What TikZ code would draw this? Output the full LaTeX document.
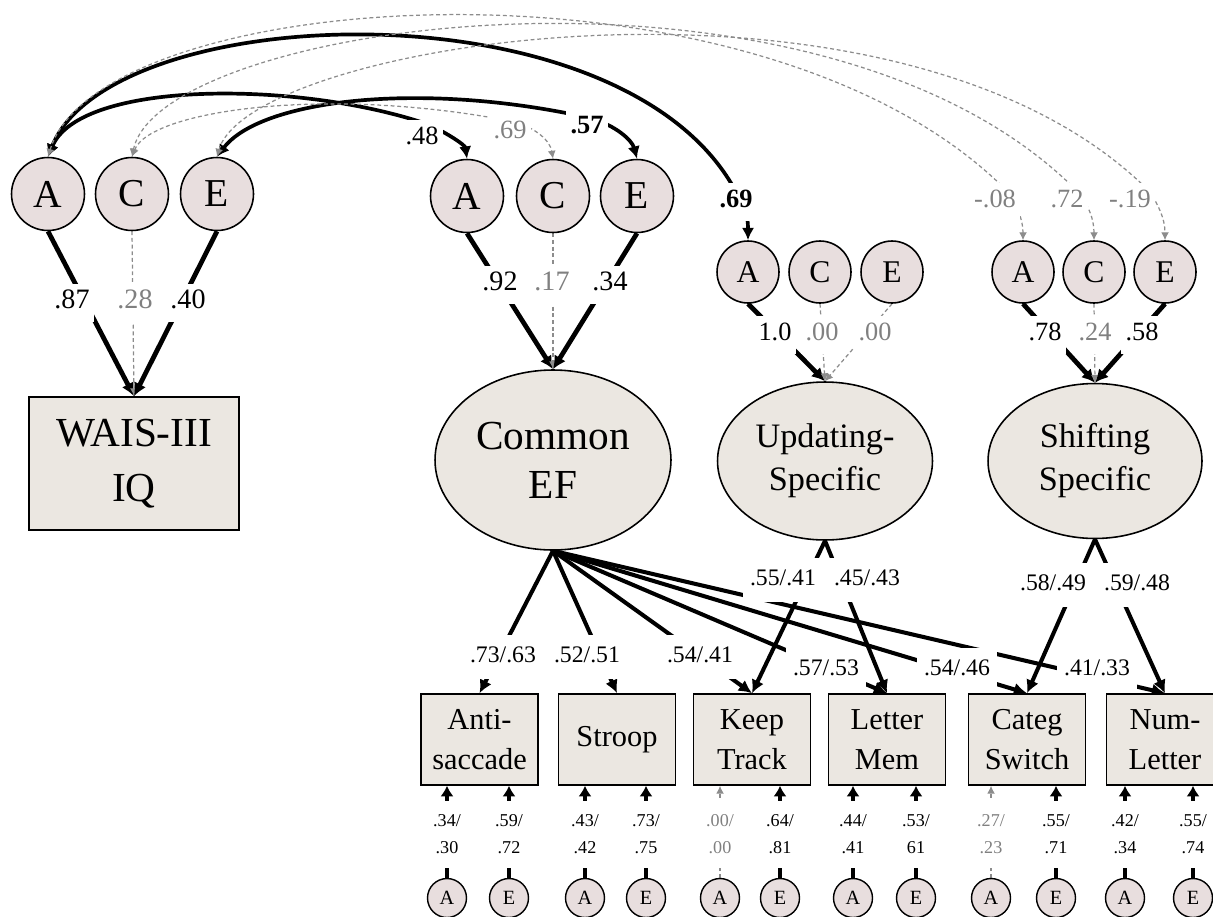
\documentclass[tikz,border=0pt]{standalone}
\usepackage{fontspec}
\setmainfont{Liberation Serif}
\usetikzlibrary{arrows.meta,shapes.geometric}
\definecolor{circfill}{RGB}{232,222,222}
\definecolor{boxfill}{RGB}{235,231,225}
\definecolor{gtext}{RGB}{128,128,128}
\definecolor{gline}{RGB}{140,140,140}
\pgfdeclarelayer{bg}
\pgfsetlayers{bg,main}
\tikzset{
  nd/.style={draw, line width=0.9pt, inner sep=0pt},
  bigc/.style={nd, circle, fill=circfill, minimum size=1.46cm, font=\fontsize{22.5}{26}\selectfont},
  smc/.style={nd, circle, fill=circfill, minimum size=1.24cm, font=\fontsize{18}{21}\selectfont},
  tinyc/.style={nd, circle, line width=0.8pt, fill=circfill, minimum size=0.78cm, font=\fontsize{11.5}{13}\selectfont},
  latent/.style={nd, ellipse, fill=boxfill, align=center},
  obs/.style={nd, rectangle, fill=boxfill, align=center},
  tbox/.style={obs, minimum width=2.34cm, minimum height=1.82cm, font=\fontsize{17.3}{23}\selectfont},
  thk/.style={line width=2.7pt, -{Latex[length=7.5pt,width=7.5pt]}},
  ldg/.style={line width=2.3pt, -{Latex[length=7.5pt,width=7.5pt]}},
  dsh/.style={gline, line width=0.7pt, dash pattern=on 2.2pt off 1.6pt, -{Latex[length=4.5pt,width=4.5pt]}},
  cov/.style={line width=2.1pt, {Latex[length=7pt,width=7pt]}-{Latex[length=7pt,width=7pt]}},
  dcov/.style={gline, line width=0.7pt, dash pattern=on 2.2pt off 1.6pt, {Latex[length=4.5pt,width=4.5pt]}-{Latex[length=4.5pt,width=4.5pt]}},
  btm/.style={line width=2.2pt, -{Latex[length=6pt,width=7.5pt]}},
  lab/.style={fill=white, inner xsep=2.5pt, inner ysep=7pt, text height=0.72em, text depth=0.05em},
  labA/.style={lab, font=\fontsize{16}{19}\selectfont},
  labB/.style={lab, font=\fontsize{15}{18}\selectfont},
  labBb/.style={lab, font=\fontsize{15}{18}\selectfont\bfseries},
  ld/.style={fill=white, inner xsep=4pt, inner ysep=8.5pt, text height=0.75em, text depth=0.08em, font=\fontsize{13.5}{16}\selectfont},
  bl/.style={fill=white, inner xsep=1pt, inner ysep=0pt, align=center, minimum height=1.34cm, font=\fontsize{10.3}{15.3}\selectfont},
  gr/.style={text=gtext},
}
\begin{document}
\begin{tikzpicture}[x=0.02cm,y=-0.02cm]
\useasboundingbox (0,0) rectangle (1213,916);
% ACE circles
\node[bigc] (LA) at (48,194) {A};
\node[bigc] (LC) at (132,194) {C};
\node[bigc] (LE) at (217,194) {E};
\node[bigc] (MA) at (467,196) {A};
\node[bigc] (MC) at (553,196) {C};
\node[bigc] (ME) at (637,196) {E};
\node[smc] (UA) at (748,272) {A};
\node[smc] (UC) at (820,272) {C};
\node[smc] (UE) at (892,272) {E};
\node[smc] (SA) at (1023,272) {A};
\node[smc] (SC) at (1094,272) {C};
\node[smc] (SE) at (1165,272) {E};
% latent / observed
\node[obs, minimum width=4.2cm, minimum height=2.66cm, font=\fontsize{23.5}{31}\selectfont] (WAIS) at (134,463.5) {WAIS-III\\IQ};
\node[latent, minimum width=4.72cm, minimum height=3.6cm, font=\fontsize{23.5}{28}\selectfont] (CEF) at (553,460) {Common\\EF};
\node[latent, minimum width=4.3cm, minimum height=3.16cm, font=\fontsize{19.5}{24.4}\selectfont] (UPD) at (825,461) {Updating-\\Specific};
\node[latent, minimum width=4.28cm, minimum height=3.1cm, font=\fontsize{19.5}{24.4}\selectfont] (SHF) at (1095,461) {Shifting\\Specific};
% task boxes
\node[tbox] (B1) at (479.5,739.5) {Anti-\\saccade};
\node[tbox] (B2) at (617,739.5) {Stroop};
\node[tbox] (B3) at (752,739.5) {Keep\\Track};
\node[tbox] (B4) at (887,739.5) {Letter\\Mem};
\node[tbox] (B5) at (1027,739.5) {Categ\\Switch};
\node[tbox] (B6) at (1165,739.5) {Num-\\Letter};
% bottom circles
\node[tinyc] (a1) at (447,898) {A};
\node[tinyc] (e1) at (509,898) {E};
\node[tinyc] (a2) at (585,898) {A};
\node[tinyc] (e2) at (646,898) {E};
\node[tinyc] (a3) at (720,898) {A};
\node[tinyc] (e3) at (780,898) {E};
\node[tinyc] (a4) at (853,898) {A};
\node[tinyc] (e4) at (916,898) {E};
\node[tinyc] (a5) at (991,898) {A};
\node[tinyc] (e5) at (1056,898) {E};
\node[tinyc] (a6) at (1125,898) {A};
\node[tinyc] (e6) at (1193,898) {E};

\begin{pgfonlayer}{bg}
% ACE paths
\draw[thk] (LA.south) -- (WAIS.north);
\draw[dsh] (LC.south) -- (WAIS.north);
\draw[thk] (LE.south) -- (WAIS.north);
\draw[thk] (MA.south) -- (CEF.north);
\draw[dsh] (MC.south) -- (CEF.north);
\draw[thk] (ME.south) -- (CEF.north);
\draw[thk] (UA.south) -- (UPD.north);
\draw[dsh] (UC.south) -- (UPD.north);
\draw[dsh] (UE.south) -- (UPD.north);
\draw[thk] (SA.south) -- (SHF.north);
\draw[dsh] (SC.south) -- (SHF.north);
\draw[thk] (SE.south) -- (SHF.north);
% covariances
\draw[cov] (LA.north) .. controls (110,0) and (620,-20) .. (735,190) .. controls (745,205) and (748,215) .. (UA.north);
\draw[cov] (LA.north) .. controls (80,80) and (300,80) .. (430,125) .. controls (450,135) and (465,145) .. (MA.north);
\draw[cov] (LE.north) .. controls (260,100) and (420,80) .. (590,118) .. controls (615,125) and (632,140) .. (ME.north);
\draw[dcov] (LC.north) .. controls (150,110) and (330,85) .. (515,122) .. controls (535,128) and (550,140) .. (MC.north);
\draw[dcov] (LA.north) .. controls (100,-15) and (760,-60) .. (1008,192) .. controls (1016,205) and (1023,218) .. (SA.north);
\draw[dcov] (LC.north) .. controls (160,20) and (820,-70) .. (1078,192) .. controls (1088,205) and (1094,218) .. (SC.north);
\draw[dcov] (LE.north) .. controls (250,40) and (900,-60) .. (1150,192) .. controls (1158,205) and (1165,218) .. (SE.north);
% loadings
\draw[ldg] (CEF.south) -- (B1.north);
\draw[ldg] (CEF.south) -- (B2.north);
\draw[ldg] (CEF.south) -- (B3.north);
\draw[ldg] (CEF.south) -- (B4.north);
\draw[ldg] (CEF.south) -- (B5.north);
\draw[ldg] (CEF.south) -- (B6.north);
\draw[ldg] (UPD.south) -- (B3.north);
\draw[ldg] (UPD.south) -- (B4.north);
\draw[ldg] (SHF.south) -- (B5.north);
\draw[ldg] (SHF.south) -- (B6.north);
% bottom arrows
\draw[btm] (a1.north) -- (a1.north |- B1.south);
\draw[btm] (e1.north) -- (e1.north |- B1.south);
\draw[btm] (a2.north) -- (a2.north |- B2.south);
\draw[btm] (e2.north) -- (e2.north |- B2.south);
\draw[dsh] (a3.north) -- (a3.north |- B3.south);
\draw[btm] (e3.north) -- (e3.north |- B3.south);
\draw[btm] (a4.north) -- (a4.north |- B4.south);
\draw[btm] (e4.north) -- (e4.north |- B4.south);
\draw[dsh] (a5.north) -- (a5.north |- B5.south);
\draw[btm] (e5.north) -- (e5.north |- B5.south);
\draw[btm] (a6.north) -- (a6.north |- B6.south);
\draw[btm] (e6.north) -- (e6.north |- B6.south);
% labels: ACE paths
\node[labA] (p1) at (72,303) {.87};
\node[labA, gr] (p2) at (135,303) {.28};
\node[labA] (p3) at (188,303) {.40};
\node[labA] (p4) at (500,285) {.92};
\node[labA, gr] (p5) at (552,285) {.17};
\node[labA] (p6) at (610,285) {.34};
\node[labB] (p7) at (775,335) {1.0};
\node[labB, gr] (p8) at (822,335) {.00};
\node[labB, gr] (p9) at (875,335) {.00};
\node[labB] (p10) at (1045,335) {.78};
\node[labB, gr] (p11) at (1095,335) {.24};
\node[labB] (p12) at (1142,335) {.58};
% labels: covariances
\node[labB] (c1) at (422,139) {.48};
\node[labB, gr] (c2) at (510,133) {.69};
\node[labBb] (c3) at (587,128) {.57};
\node[labBb] (c4) at (736,202) {.69};
\node[labB, gr] (c5) at (995,202) {-.08};
\node[labB, gr] (c6) at (1067,202) {.72};
\node[labB, gr] (c7) at (1130,202) {-.19};
% labels: loadings
\node[ld] (m1) at (503,657) {.73/.63};
\node[ld] (m2) at (587,657) {.52/.51};
\node[ld] (m3) at (700,657) {.54/.41};
\node[ld] (m4) at (826,670) {.57/.53};
\node[ld] (m5) at (957,670) {.54/.46};
\node[ld] (m6) at (1097,670) {.41/.33};
\node[ld] (u1) at (783,580) {.55/.41};
\node[ld] (u2) at (867,580) {.45/.43};
\node[ld] (s1) at (1053,585) {.58/.49};
\node[ld] (s2) at (1137,585) {.59/.48};
% labels: bottom
\node[bl] (q1) at (447,834) {.34/\\.30};
\node[bl] (q2) at (509,834) {.59/\\.72};
\node[bl] (q3) at (585,834) {.43/\\.42};
\node[bl] (q4) at (646,834) {.73/\\.75};
\node[bl, gr] (q5) at (720,834) {.00/\\.00};
\node[bl] (q6) at (780,834) {.64/\\.81};
\node[bl] (q7) at (853,834) {.44/\\.41};
\node[bl] (q8) at (916,834) {.53/\\61};
\node[bl, gr] (q9) at (991,834) {.27/\\.23};
\node[bl] (q10) at (1056,834) {.55/\\.71};
\node[bl] (q11) at (1125,834) {.42/\\.34};
\node[bl] (q12) at (1193,834) {.55/\\.74};
\end{pgfonlayer}
\end{tikzpicture}
\end{document}
